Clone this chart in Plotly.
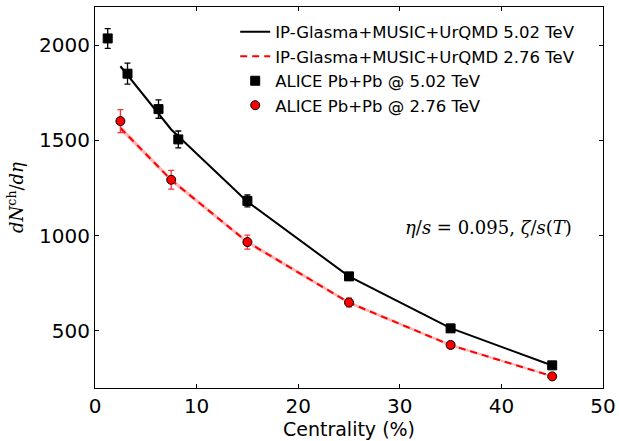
import plotly.graph_objects as go

# ALICE data
cent_502 = [1.25, 3.2, 6.25, 8.2, 15, 25, 35, 45]
mult_502 = [2035, 1850, 1664, 1505, 1182, 786, 513, 319]
err_502 = [52, 55, 48, 44, 31, 20, 15, 12]

cent_276 = [2.5, 7.5, 15, 25, 35, 45]
mult_276 = [1601, 1293, 966, 649, 426, 261]
err_276 = [60, 49, 37, 23, 15, 9]

# Model (IP-Glasma+MUSIC+UrQMD)
model_cent = [2.5, 7.5, 15, 25, 35, 45]
model_502 = [1889, 1557, 1178, 786, 514, 318]
model_276 = [1565, 1292, 966, 648, 425, 262]
model_276_err = [14, 12, 10, 9, 7, 5]

label_model_502 = "IP-Glasma+MUSIC+UrQMD 5.02 TeV"
label_model_276 = "IP-Glasma+MUSIC+UrQMD 2.76 TeV"
label_data_502 = "ALICE Pb+Pb @ 5.02 TeV"
label_data_276 = "ALICE Pb+Pb @ 2.76 TeV"

x_ticks = [0, 10, 20, 30, 40, 50]
y_ticks = [500, 1000, 1500, 2000]

fig = go.Figure()

# band for 2.76 model
fig.add_trace(go.Scatter(
    x=model_cent, y=[v + e for v, e in zip(model_276, model_276_err)],
    mode="lines", line=dict(width=0), showlegend=False, hoverinfo="skip"))
fig.add_trace(go.Scatter(
    x=model_cent, y=[v - e for v, e in zip(model_276, model_276_err)],
    mode="lines", line=dict(width=0), fill="tonexty",
    fillcolor="rgba(255,0,0,0.28)", showlegend=False, hoverinfo="skip"))

fig.add_trace(go.Scatter(
    x=model_cent, y=model_502, mode="lines", name=label_model_502,
    line=dict(color="black", width=2)))
fig.add_trace(go.Scatter(
    x=model_cent, y=model_276, mode="lines", name=label_model_276,
    line=dict(color="red", width=2, dash="7px,5px")))

fig.add_trace(go.Scatter(
    x=cent_502, y=mult_502, mode="markers", name=label_data_502,
    marker=dict(symbol="square", size=9, color="black",
                line=dict(color="black", width=1)),
    error_y=dict(type="data", array=err_502, color="black",
                 thickness=1.3, width=3)))
fig.add_trace(go.Scatter(
    x=cent_276, y=mult_276, mode="markers", name=label_data_276,
    marker=dict(symbol="circle", size=9, color="red",
                line=dict(color="black", width=1)),
    error_y=dict(type="data", array=err_276, color="#ff3030",
                 thickness=1.3, width=3)))

fig.add_annotation(
    x=0.942, y=0.42, xref="paper", yref="paper", xanchor="right",
    yanchor="middle", showarrow=False,
    text="<i>η</i>/<i>s</i> = 0.095, <i>ζ</i>/<i>s</i>(<i>T</i>)",
    font=dict(family="DejaVu Serif", size=18, color="black"))

fig.update_layout(
    width=619, height=441,
    margin=dict(l=95, r=16, t=7, b=53),
    paper_bgcolor="white", plot_bgcolor="white",
    font=dict(family="DejaVu Sans", color="black", size=19),
    legend=dict(x=0.276, y=0.98, xanchor="left", yanchor="top",
                bgcolor="rgba(0,0,0,0)", font=dict(size=16.5),
                tracegroupgap=0, itemwidth=30, traceorder="normal"),
    showlegend=True,
)
fig.update_xaxes(
    range=[0, 50], tickvals=x_ticks, ticks="inside", ticklen=4,
    tickcolor="black", showline=True, linecolor="black", linewidth=1,
    mirror="allticks", showgrid=False, zeroline=False, automargin=False,
    title=dict(text="Centrality (%)", font=dict(size=19), standoff=4),
    tickfont=dict(size=20))
fig.update_yaxes(
    range=[200, 2200], tickvals=y_ticks, ticks="inside", ticklen=4,
    tickcolor="black", showline=True, linecolor="black", linewidth=1,
    mirror="allticks", showgrid=False, zeroline=False, automargin=False,
    title=dict(text="<i>dN</i><sup>ch</sup>/<i>dη</i>",
               font=dict(family="DejaVu Serif", size=18), standoff=10),
    tickfont=dict(size=20))

fig.write_html("out.html", config={"displayModeBar": False},
               post_script="document.body.style.margin='0';")
